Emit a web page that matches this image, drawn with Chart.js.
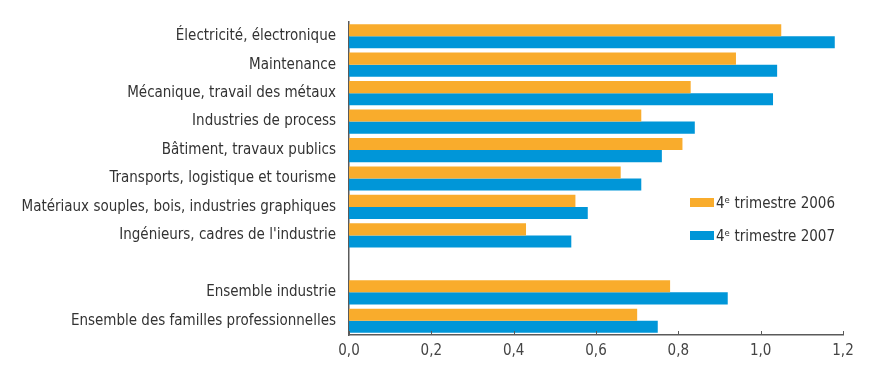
<!DOCTYPE html>
<html lang="fr">
<head>
<meta charset="utf-8">
<script src="https://cdn.jsdelivr.net/npm/chart.js@4/dist/chart.umd.min.js"></script>
<style>
    body { margin: 0; background: #fff; }
    #cadre { position: relative; width: 875px; height: 376px; }
    #legende { position: absolute; left: 690px; top: 186px; font-family: "DejaVu Sans Condensed", "Liberation Sans Narrow", sans-serif; font-size: 15px; color: #333; }
    .item { display: flex; align-items: center; height: 33px; }
    .boite { width: 24px; height: 9px; margin-right: 2px; }
</style>
</head>
<body>
<div id="cadre">
    <canvas id="graficoTensions" width="875" height="376"></canvas>
    <div id="legende"></div>
</div>
<script>
// Familles professionnelles (la ligne vide sépare les ensembles)
const categories = [
    'Électricité, électronique',
    'Maintenance',
    'Mécanique, travail des métaux',
    'Industries de process',
    'Bâtiment, travaux publics',
    'Transports, logistique et tourisme',
    'Matériaux souples, bois, industries graphiques',
    "Ingénieurs, cadres de l'industrie",
    '',
    'Ensemble industrie',
    'Ensemble des familles professionnelles'
];
const trimestre2006 = [1.05, 0.94, 0.83, 0.71, 0.81, 0.66, 0.55, 0.43, null, 0.78, 0.70];
const trimestre2007 = [1.18, 1.04, 1.03, 0.84, 0.76, 0.71, 0.58, 0.54, null, 0.92, 0.75];
const seriesLabels = ['4ᵉ trimestre 2006', '4ᵉ trimestre 2007'];
const xTicks = [0, 0.2, 0.4, 0.6, 0.8, 1.0, 1.2];

const police = '"DejaVu Sans Condensed", "Liberation Sans Narrow", sans-serif';

// petits traits de graduation vers l'intérieur
const ticksInterieurs = {
    id: 'ticksInterieurs',
    afterDraw(chart) {
        const x = chart.scales.x;
        const ctx = chart.ctx;
        ctx.save();
        ctx.strokeStyle = '#5a5a5a';
        ctx.lineWidth = 1;
        xTicks.forEach(v => {
            const px = Math.round(x.getPixelForValue(v)) + 0.5;
            ctx.beginPath();
            ctx.moveTo(px, x.top);
            ctx.lineTo(px, x.top - 4);
            ctx.stroke();
        });
        ctx.restore();
    }
};

const ctx = document.getElementById('graficoTensions').getContext('2d');
const grafico = new Chart(ctx, {
    type: 'bar',
    data: {
        labels: categories,
        datasets: [
            { label: seriesLabels[0], data: trimestre2006, backgroundColor: '#F9AC2C' },
            { label: seriesLabels[1], data: trimestre2007, backgroundColor: '#0096D8' }
        ]
    },
    options: {
        indexAxis: 'y',
        responsive: false,
        animation: false,
        layout: { padding: { top: 17, right: 32, left: 0, bottom: 0 } },
        datasets: { bar: { categoryPercentage: 0.85, barPercentage: 1.0 } },
        plugins: {
            legend: { display: false },
            tooltip: { enabled: false }
        },
        scales: {
            x: {
                min: 0,
                max: 1.2,
                afterBuildTicks: scale => { scale.ticks = xTicks.map(v => ({ value: v })); },
                afterFit: scale => { scale.height = 41; },
                grid: { display: false, drawTicks: false },
                border: { display: true, color: '#5a5a5a', width: 1.5 },
                ticks: {
                    padding: 7,
                    color: '#444',
                    font: { family: police, size: 15 },
                    callback: v => v.toFixed(1).replace('.', ',')
                }
            },
            y: {
                afterFit: scale => { scale.width = 349; },
                grid: { display: false, drawTicks: false },
                border: { display: true, color: '#5a5a5a', width: 1.5 },
                ticks: {
                    padding: 13,
                    color: '#333',
                    autoSkip: false,
                    font: { family: police, size: 15 }
                }
            }
        }
    },
    plugins: [ticksInterieurs]
});

// Légende HTML à droite du graphique
const legende = document.getElementById('legende');
grafico.data.datasets.forEach(ds => {
    const item = document.createElement('div');
    item.className = 'item';
    item.innerHTML = `<span class="boite" style="background:${ds.backgroundColor}"></span><span>${ds.label}</span>`;
    legende.appendChild(item);
});
</script>
</body>
</html>
